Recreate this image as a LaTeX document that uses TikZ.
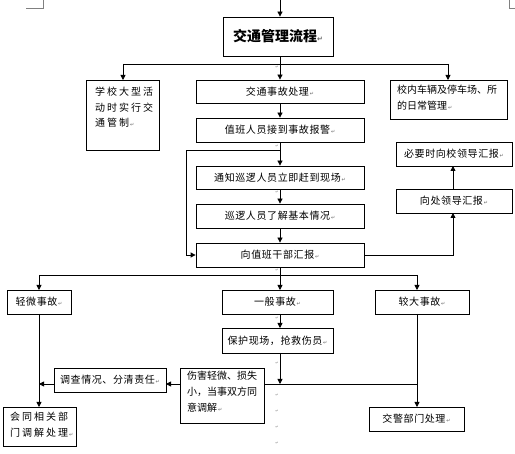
\documentclass[tikz,border=0pt]{standalone}
\usepackage{fontspec}
\newfontfamily\cjk{Noto Sans CJK SC}
\newfontfamily\cjkw[LetterSpace=20]{Noto Sans CJK SC}
\newfontfamily\cjkn[LetterSpace=6]{Noto Sans CJK SC}
\newfontfamily\djv{DejaVu Sans}
\usetikzlibrary{arrows.meta}
\newcommand{\parmk}{{\djv\fontsize{5}{5}\selectfont\color{black!60}\,↵}}
\tikzset{
  box/.style={draw, line width=0.8pt, rectangle, inner sep=0pt, font=\cjkn\fontsize{10}{15}\selectfont},
  txt/.style={inner sep=0pt, align=left, font=\cjkw\fontsize{10}{15.5}\selectfont},
  conn/.style={line width=0.8pt},
  arr/.style={line width=0.8pt, -{Triangle[length=5pt,width=5pt]}},
  dotmk/.style={inner sep=0pt, font=\djv\fontsize{4}{4}\selectfont, text=black!45},
}
\begin{document}
\begin{tikzpicture}[x=1pt,y=-1pt]
\useasboundingbox (0,0) rectangle (515,454);
% page corner marks
\draw[black!50, line width=0.6pt] (26,8) -- (43,8) -- (43,0);
\draw[black!50, line width=0.6pt] (515,8) -- (509,8) -- (509,0);

% title
\node[box, minimum width=110pt, minimum height=39pt, font=\cjk\bfseries\fontsize{14}{16}\selectfont] (title) at (278,36.5) {交通管理流程{\djv\fontsize{7}{7}\selectfont\color{black!60}↵}};
\coordinate (top) at (280,0);
\draw[arr] (top) -- (top |- title.north);

% upper row
\node[box, minimum width=73pt, minimum height=70pt] (A) at (122.5,115) {};
\node[txt, anchor=north west] (At) at (95,87) {学校大型活\\动时实行交\\通管制\parmk};
\node[box, minimum width=168pt, minimum height=23pt] (B1) at (280,91.5) {交通事故处理\parmk};
\node[box, minimum width=117pt, minimum height=39pt] (R) at (448.5,99.5) {};
\node[txt, anchor=north west, font=\cjk\fontsize{10}{15.5}\selectfont] (Rt) at (397,85) {校内车辆及停车场、所\\的日常管理\parmk};

\coordinate (s0) at (280,64);
\draw[conn] (title.south -| s0) -- (s0);
\draw[conn] (123,64) -- (448,64);
\draw[arr] (123,64) -- (123,80);
\draw[arr] (s0) -- (B1.north);
\draw[arr] (448,64) -- (448,80);

% middle column
\node[box, minimum width=168pt, minimum height=24pt] (B2) at (280,130) {值班人员接到事故报警\parmk};
\node[box, minimum width=168pt, minimum height=23pt] (B3) at (280,177.5) {通知巡逻人员立即赶到现场\parmk};
\node[box, minimum width=168pt, minimum height=24pt] (B4) at (280,216) {巡逻人员了解基本情况\parmk};
\node[box, minimum width=168pt, minimum height=24pt] (B5) at (280,255) {向值班干部汇报\parmk};
\draw[arr] (B1) -- (B2);
\draw[arr] (B2) -- (B3);
\draw[arr] (B3) -- (B4);
\draw[arr] (B4) -- (B5);
\coordinate (lp) at (280,150);
\draw[arr] (lp) -- (186,150) -- (186,255) -- (B5.west);

% right column
\node[box, minimum width=116pt, minimum height=24pt] (R2) at (454,154) {必要时向校领导汇报\parmk};
\node[box, minimum width=116pt, minimum height=24pt] (R1) at (454,201) {向处领导汇报\parmk};
\draw[arr] (B5.east) -- (453,255) -- (453,213);
\draw[arr] (453,189) -- (453,166);

% lower row
\node[box, minimum width=64pt, minimum height=24pt] (L1) at (39,302) {轻微事故\parmk};
\node[box, minimum width=111pt, minimum height=24pt] (M1) at (277.5,302) {一般事故\parmk};
\node[box, minimum width=94pt, minimum height=24pt] (K1) at (422,302) {较大事故\parmk};
\coordinate (s1) at (280,275);
\draw[conn] (B5.south -| s1) -- (s1);
\draw[conn] (39,275) -- (417,275);
\draw[arr] (39,275) -- (39,290);
\draw[arr] (s1) -- (280,290);
\draw[arr] (417,275) -- (417,290);

\node[box, minimum width=111pt, minimum height=25pt] (M2) at (277.5,340.5) {保护现场，抢救伤员\parmk};
\draw[arr] (280,314) -- (280,328);

\node[box, minimum width=84pt, minimum height=55pt] (M3) at (222,395.5) {};
\node[txt, anchor=north west, font=\cjk\fontsize{10}{16}\selectfont] (M3t) at (187,371) {伤害轻微、损失\\小，当事双方同\\意调解\parmk};
\node[box, minimum width=112pt, minimum height=24pt] (L2) at (110,380) {调查情况、分清责任\parmk};
\node[box, minimum width=73pt, minimum height=39pt] (L3) at (39.5,426.5) {};
\node[txt, anchor=north west] (L3t) at (10,412) {会同相关部\\门调解处理\parmk};
\node[box, minimum width=95pt, minimum height=24pt] (K2) at (416.5,419) {交警部门处理\parmk};

\coordinate (j1) at (280,384);
\draw[arr] (280,353) -- (j1);
\draw[conn] (264,384) -- (417,384);
\draw[arr] (417,314) -- (417,407);
\draw[arr] (180,384) -- (166,384);
\draw[arr] (54,384) -- (39,384);
\draw[arr] (39,314) -- (39,407);

% faint paragraph marks
\foreach \yy/\nm in {67/d1,146/d2,192/d3,270/d4,318/d5,363/d6,395/d7,411/d8,427/d9,443/d10}
  \node[dotmk] (\nm) at (277,\yy) {↵};
\end{tikzpicture}
\end{document}
